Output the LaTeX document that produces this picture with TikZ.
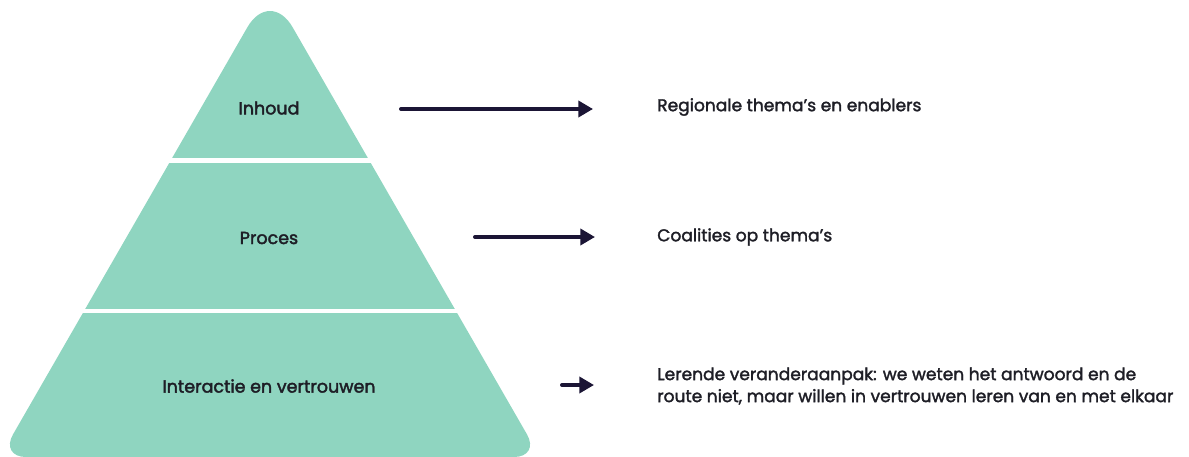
\documentclass[tikz,border=0pt]{standalone}
\usepackage{fontspec}
\setmainfont{Poppins}
\newfontfamily\lblfont{Poppins}[FakeBold=2.2]
\newfontfamily\txtfont{Poppins}[FakeBold=1.8]
\usetikzlibrary{arrows.meta}
\definecolor{pyrgreen}{HTML}{8FD5C0}
\definecolor{arrownavy}{HTML}{1B1535}
\definecolor{textdark}{HTML}{1E1E26}
\tikzset{
  lbl/.style={text=textdark, font=\lblfont\fontsize{13.1}{14}\selectfont, inner sep=0pt},
  rlbl/.style={text=textdark, font=\txtfont\fontsize{12.8}{16.5}\selectfont, inner sep=0pt, anchor=west, align=left},
  arr/.style={draw=arrownavy, line width=3pt, line cap=round, -{Triangle[length=11pt,width=12pt]}},
  divider/.style={draw=white, line width=3.2pt}
}
\begin{document}
\begin{tikzpicture}[x=0.75pt, y=-0.75pt]
\useasboundingbox (0,0) rectangle (1189,457);
\fill[white] (0,0) rectangle (1189,457);
% pyramid
\fill[pyrgreen] (270,457) [rounded corners=19.5pt] -- (540,457) [rounded corners=34pt] -- (270,-12) [rounded corners=19.5pt] -- (0,457) [sharp corners] -- cycle;
\draw[divider] (100,160.5) -- (440,160.5);
\draw[divider] (40,311) -- (500,311);
% labels
\node[lbl] (inhoud) at (269,108) {Inhoud};
\node[lbl] (proces) at (269,238) {Proces};
\node[lbl] (inter) at (269,386) {Interactie en vertrouwen};
% right texts
\node[rlbl] (t1) at (657,107) {Regionale thema’s en enablers};
\node[rlbl] (t2) at (657,237) {Coalities op thema’s};
\node[rlbl] (t3) at (657,386) {Lerende veranderaanpak: we weten het antwoord en de\\route niet, maar willen in vertrouwen leren van en met elkaar};
% arrows
\coordinate (a1s) at (401,109);
\coordinate (a1e) at (593,109);
\coordinate (a2s) at (475,237);
\coordinate (a2e) at (595,237);
\coordinate (a3s) at (562,385);
\coordinate (a3e) at (594,385);
\draw[arr] (a1s) -- (a1e);
\draw[arr] (a2s) -- (a2e);
\draw[arr] (a3s) -- (a3e);
\end{tikzpicture}
\end{document}
